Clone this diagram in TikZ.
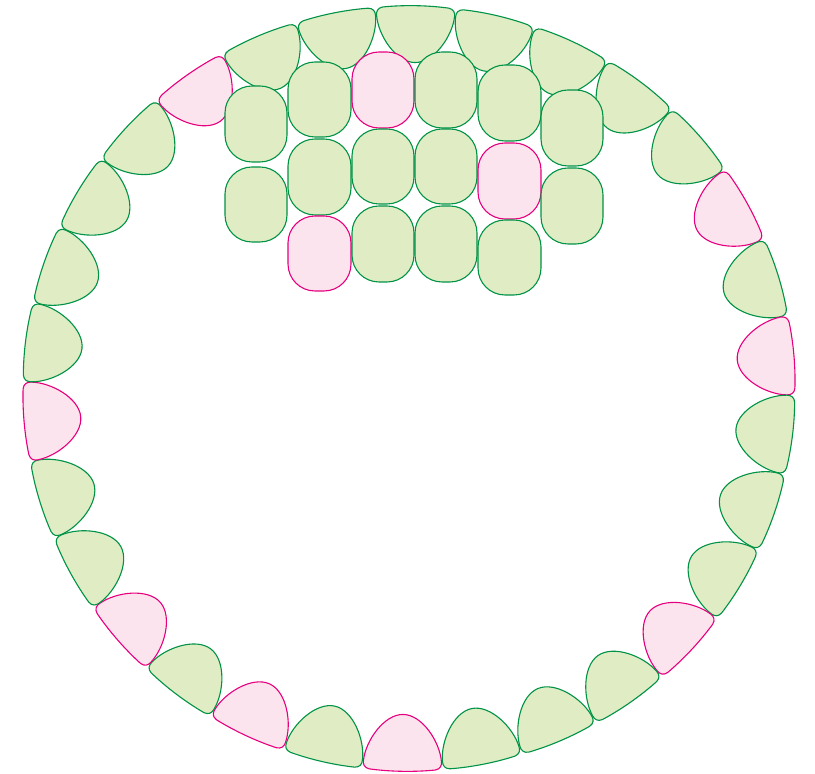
\documentclass[tikz,border=0pt]{standalone}
\definecolor{gfill}{RGB}{224,236,196}
\definecolor{gline}{RGB}{0,146,69}
\definecolor{pfill}{RGB}{252,228,238}
\definecolor{pline}{RGB}{230,0,126}
\tikzset{
  cellg/.style={fill=gfill,draw=gline},
  cellp/.style={fill=pfill,draw=pline},
  ringcell/.pic={
    \path[pic actions] (-33,-1.5) .. controls (-12,-4) and (12,-4) .. (33,-1.5)
      .. controls (38,-0.5) and (39.5,3) .. (39,7)
      .. controls (37,27) and (19,53.5) .. (0,53.5)
      .. controls (-19,53.5) and (-37,27) .. (-39,7)
      .. controls (-39.5,3) and (-38,-0.5) .. (-33,-1.5) -- cycle;
  },
  gridcell/.style={rounded corners=27pt}
}
\begin{document}
\begin{tikzpicture}[x=1pt,y=1pt,line width=1.1pt]
\useasboundingbox (0,0) rectangle (815,774);
% ring of cells
\foreach \k/\s in {0/g,1/g,2/g,3/g,4/g,5/p,6/g,7/p,8/g,9/g,10/g,11/p,12/g,13/g,14/g,15/p,16/g,17/p,18/g,19/p,20/g,21/g,22/p,23/g,24/g,25/g,26/g,27/p,28/g,29/g}{
  \pgfmathsetmacro\t{89-12*\k}
  \path ({409+383*cos(\t)},{385.5+379.5*sin(\t)}) pic[rotate=\t+90,cell\s] {ringcell};
}
% grid of rounded cells (image coordinates converted: y = 774 - Y)
\foreach \xa/\xb/\ya/\yb/\s in {
  225/287/86/162/g, 225/287/167/242/g,
  288/351/62/137/g, 288/351/139/215/g, 288/351/216/291/p,
  352/414/52/128/p, 352/414/129/204/g, 352/414/206/282/g,
  415/477/52/128/g, 415/477/129/204/g, 415/477/206/282/g,
  478/541/65/141/g, 478/541/143/219/p, 478/541/220/295/g,
  541/603/90/166/g, 541/603/168/244/g}{
  \path[cell\s,gridcell] (\xa,{774-\ya}) rectangle (\xb,{774-\yb});
}
\end{tikzpicture}
\end{document}
